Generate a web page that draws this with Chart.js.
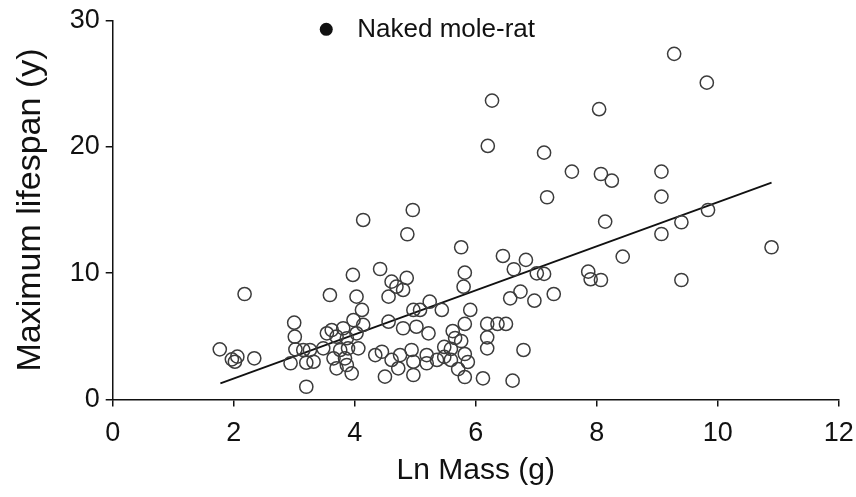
<!DOCTYPE html>
<html>
<head>
<meta charset="utf-8">
<script src="https://cdn.jsdelivr.net/npm/chart.js@4"></script>
<style>
  html, body { margin: 0; padding: 0; background: #fff; }
  #wrap { width: 856px; height: 497px; }
</style>
</head>
<body>
<div id="wrap"><canvas id="chart" width="856" height="497"></canvas></div>
<script>
const lnMass = [
  2.18, 3.59, 1.77, 1.97, 2.06, 2.02, 2.34, 3.00, 3.01, 3.02,
  2.94, 3.20, 3.20, 3.32, 3.15, 3.26, 3.48, 3.54, 3.62, 3.97,
  4.03, 4.12, 4.56, 4.69, 4.80, 4.61, 4.86, 5.80, 3.81, 3.98,
  4.14, 4.03, 3.87, 3.70, 4.06, 3.89, 3.76, 3.65, 3.84, 3.70,
  3.95, 3.87, 4.56, 4.80, 5.02, 5.22, 4.97, 5.08, 5.24, 5.44,
  4.34, 4.45, 4.61, 4.75, 4.72, 4.94, 4.97, 4.97, 4.50, 5.19,
  5.19, 5.36, 5.62, 5.66, 5.76, 5.48, 5.59, 5.48, 5.59, 5.82,
  5.87, 5.71, 5.82, 4.14, 4.96, 4.87, 5.76, 5.82, 4.42, 6.45,
  6.83, 6.63, 7.01, 7.13, 7.86, 7.90, 8.07, 5.91, 5.82, 6.57,
  6.74, 6.97, 7.29, 6.19, 6.36, 6.50, 6.19, 6.19, 6.79, 6.27,
  8.04, 6.20, 7.13, 7.59, 8.07, 8.25, 7.18, 8.14, 9.07, 9.07,
  9.07, 9.28, 9.82, 9.40, 9.84, 8.43, 10.89, 9.40, 6.61, 6.12
];
const lifespan = [
  8.35, 8.27, 3.97, 3.18, 3.39, 2.99, 3.26, 6.08, 4.97, 3.97,
  2.87, 1.01, 2.91, 2.99, 3.92, 3.92, 4.05, 5.24, 5.50, 9.86,
  8.14, 7.09, 8.14, 8.93, 8.67, 9.33, 9.62, 8.93, 5.64, 6.29,
  5.90, 5.24, 4.85, 4.97, 4.05, 4.05, 3.92, 3.26, 3.26, 2.47,
  2.07, 2.73, 6.16, 5.64, 5.76, 5.24, 7.09, 7.09, 7.74, 7.09,
  3.52, 3.78, 3.13, 3.52, 2.47, 3.92, 2.99, 1.94, 1.81, 3.52,
  2.87, 3.13, 5.42, 4.87, 4.63, 4.16, 4.00, 3.37, 3.13, 3.60,
  2.97, 2.41, 1.78, 14.21, 15.00, 13.08, 12.05, 10.04, 10.33, 11.36,
  11.05, 10.31, 9.99, 9.94, 10.12, 9.52, 9.46, 7.09, 5.98, 8.01,
  8.54, 7.82, 8.35, 5.98, 5.98, 5.98, 4.92, 4.05, 3.92, 23.66,
  22.98, 20.07, 19.54, 18.04, 17.85, 17.32, 16.01, 14.08, 18.04, 16.06,
  13.10, 27.36, 25.08, 14.03, 15.00, 11.31, 12.05, 9.46, 1.49, 1.68
];

// regression line end points
const fitX = [1.78, 10.89];
const fitY = [1.28, 17.17];

const xTicks = [0, 2, 4, 6, 8, 10, 12];
const yTicks = [0, 10, 20, 30];

const legendLabel = 'Naked mole-rat';
const legendAt = { x: 3.53, y: 29.3 };

const FONT = '"Liberation Sans", Arial, Helvetica, sans-serif';
const INK = '#111';

const points = lnMass.map((x, i) => ({ x: x, y: lifespan[i] }));
const fitLine = fitX.map((x, i) => ({ x: x, y: fitY[i] }));

// legend entry drawn inside the plot, like the original figure
const moleRatLegend = {
  id: 'moleRatLegend',
  afterDraw(chart) {
    const ctx = chart.ctx;
    const px = chart.scales.x.getPixelForValue(legendAt.x);
    const py = chart.scales.y.getPixelForValue(legendAt.y);
    ctx.save();
    ctx.fillStyle = INK;
    ctx.beginPath();
    ctx.arc(px, py, 6.5, 0, Math.PI * 2);
    ctx.fill();
    ctx.font = '26px ' + FONT;
    ctx.textBaseline = 'middle';
    ctx.fillText(legendLabel, px + 31, py);
    ctx.restore();
  }
};

new Chart(document.getElementById('chart'), {
  type: 'scatter',
  data: {
    datasets: [
      {
        label: 'Species',
        data: points,
        pointStyle: 'circle',
        pointRadius: 6.6,
        pointBorderWidth: 1.5,
        borderColor: '#3c3c3c',
        backgroundColor: 'rgba(255,255,255,0)',
      },
      {
        label: 'Fit',
        data: fitLine,
        showLine: true,
        pointRadius: 0,
        borderColor: INK,
        borderWidth: 1.8,
      },
    ],
  },
  options: {
    responsive: false,
    animation: false,
    layout: { padding: { top: 20.5, right: 17.3, left: 0, bottom: 0 } },
    plugins: {
      legend: { display: false },
      tooltip: { enabled: false },
    },
    scales: {
      x: {
        type: 'linear',
        min: 0,
        max: 12,
        afterBuildTicks: (s) => { s.ticks = xTicks.map((v) => ({ value: v })); },
        afterFit: (s) => { s.height = 97.5; s.paddingLeft = 0; s.paddingRight = 0; },
        ticks: { color: INK, font: { family: FONT, size: 27 }, padding: 11 },
        grid: { drawOnChartArea: false, drawTicks: true, tickLength: 7, color: INK, lineWidth: 1.5 },
        border: { display: true, color: INK, width: 1.5 },
        title: { display: true, text: 'Ln Mass (g)', color: INK, font: { family: FONT, size: 30 }, padding: { top: 4, bottom: 8 } },
      },
      y: {
        type: 'linear',
        min: 0,
        max: 30,
        afterBuildTicks: (s) => { s.ticks = yTicks.map((v) => ({ value: v })); },
        afterFit: (s) => { s.width = 112.7; s.paddingTop = 0; s.paddingBottom = 0; },
        ticks: { color: INK, font: { family: FONT, size: 27 }, padding: 6 },
        grid: { drawOnChartArea: false, drawTicks: true, tickLength: 7, color: INK, lineWidth: 1.5 },
        border: { display: true, color: INK, width: 1.5 },
        title: { display: true, text: 'Maximum lifespan (y)', color: INK, font: { family: FONT, size: 34 }, padding: { top: 10, bottom: 4 } },
      },
    },
  },
  plugins: [moleRatLegend],
});
</script>
</body>
</html>
